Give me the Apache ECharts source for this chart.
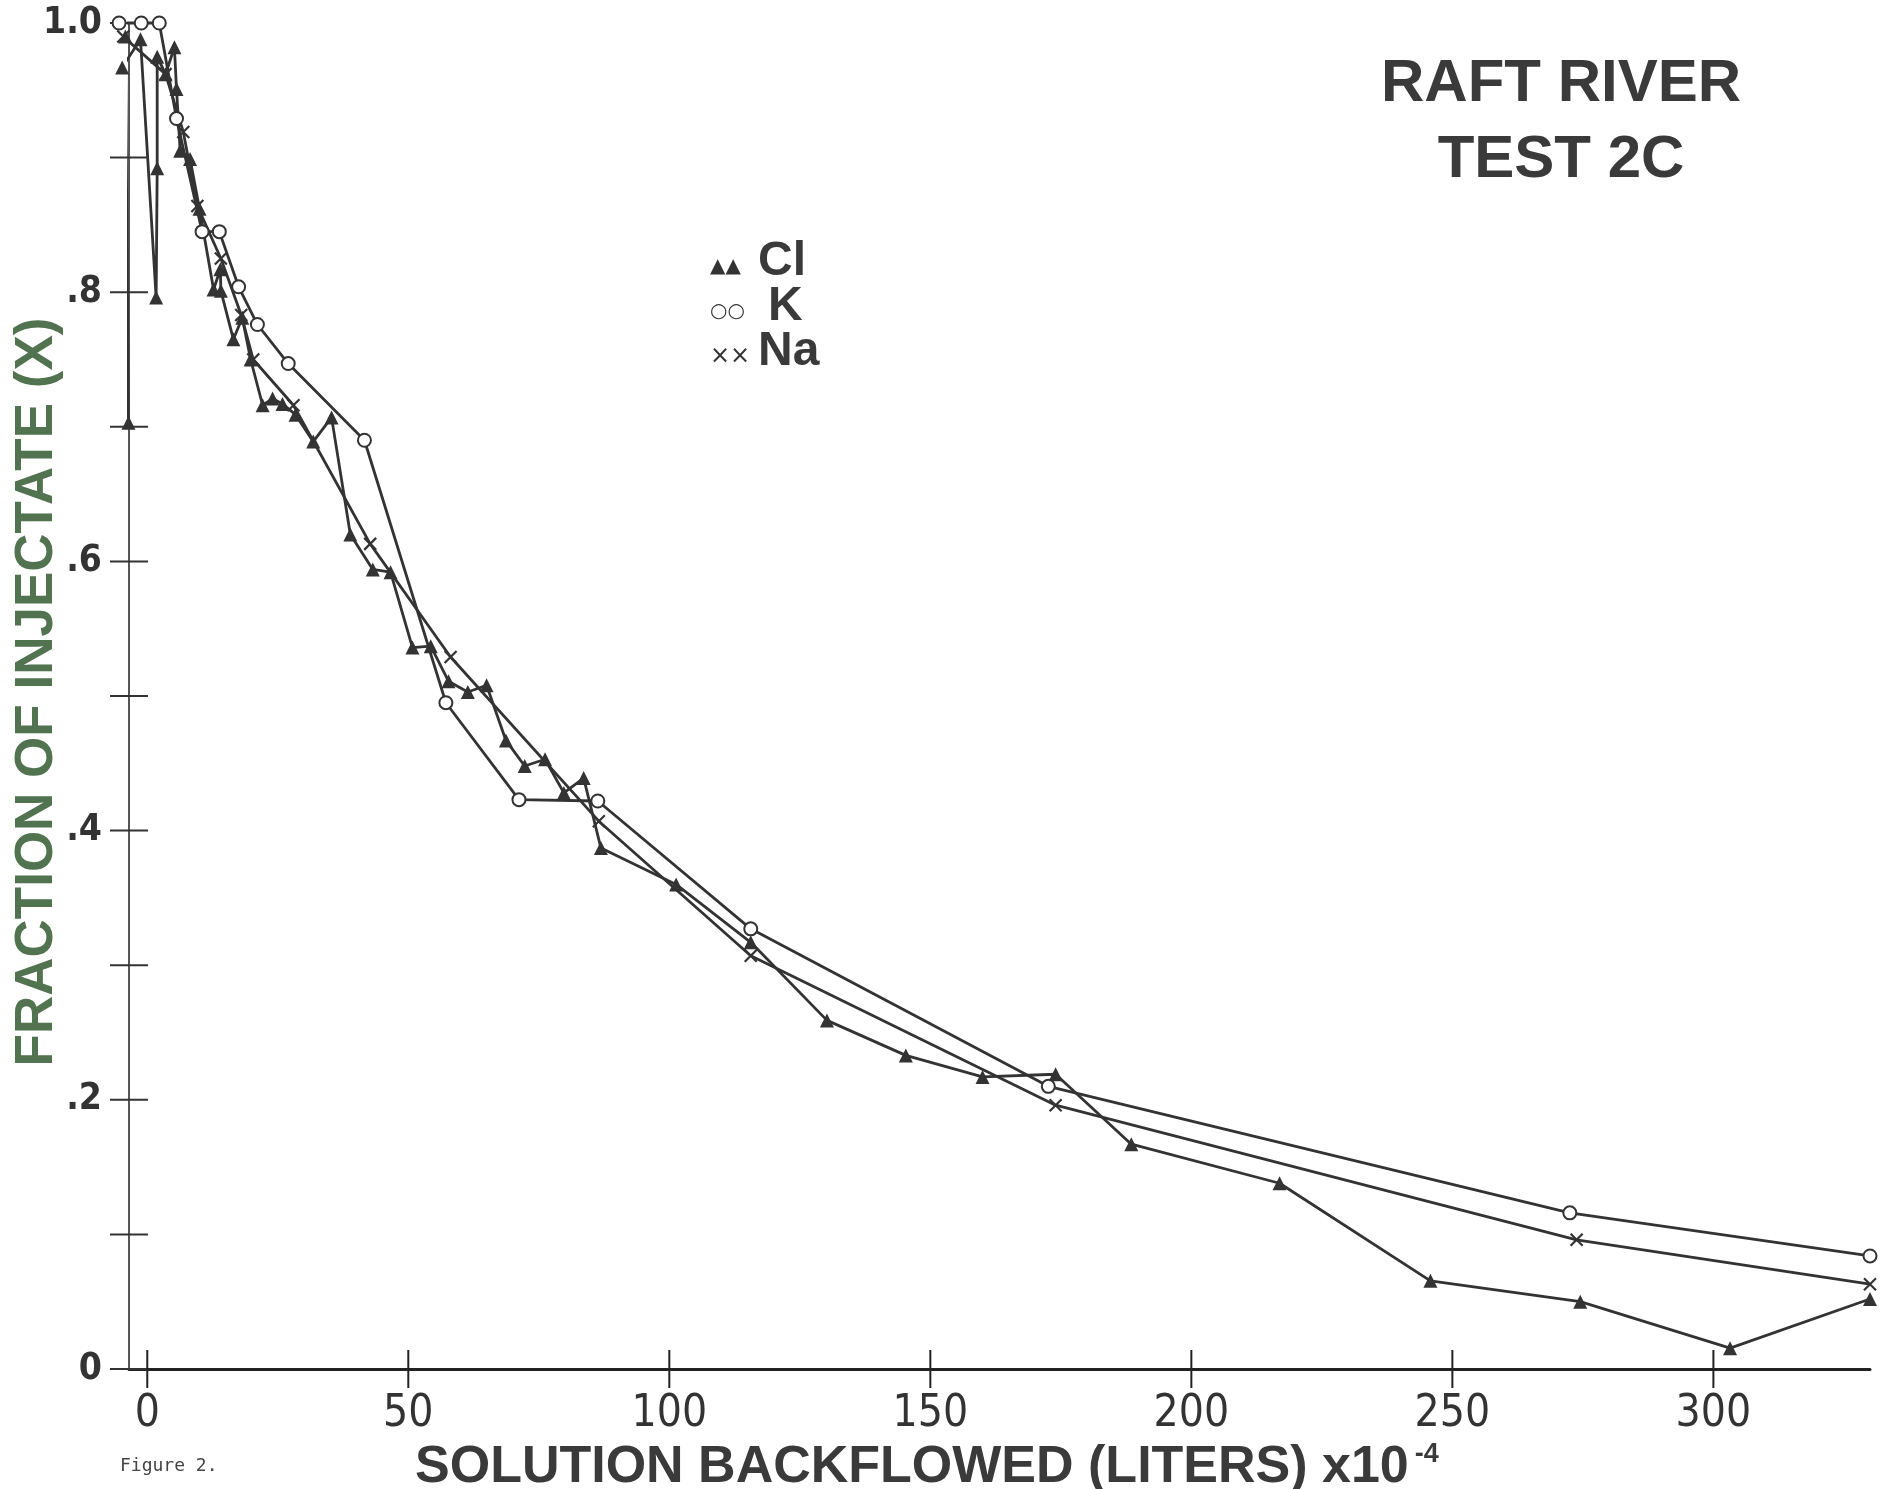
<!DOCTYPE html>
<html><head><meta charset="utf-8">
<script src="https://cdn.jsdelivr.net/npm/echarts@6/dist/echarts.min.js"></script>
<style>html,body{margin:0;padding:0;background:#fff}#c{width:1887px;height:1489px}</style>
</head><body><div id="c"></div>
<script>
// Cl (triangles): [backflowed volume x1e-4 L, fraction of injectate]
const clData = [
  [-3.6,0.703],[-4.2,0.99],[-4.8,0.967],[-1.3,0.988],[1.7,0.796],[1.9,0.892],[1.9,0.975],
  [3.5,0.962],[5.2,0.982],[5.6,0.951],[6.3,0.905],[8.2,0.899],[10.0,0.862],[12.7,0.802],
  [14.0,0.817],[14.1,0.801],[16.5,0.765],[18.2,0.781],[19.8,0.75],[22.1,0.716],[24.0,0.721],
  [25.9,0.717],[28.4,0.709],[31.8,0.689],[35.3,0.707],[38.9,0.62],[43.2,0.594],[46.6,0.592],
  [50.8,0.536],[54.3,0.537],[57.7,0.511],[61.4,0.503],[65.0,0.508],[68.7,0.467],[72.3,0.448],
  [76.2,0.453],[79.8,0.428],[83.6,0.439],[86.9,0.387],[101.3,0.36],[115.6,0.317],[130.2,0.259],
  [145.3,0.233],[160.0,0.217],[174.0,0.219],[188.5,0.167],[216.9,0.138],[245.8,0.0655],
  [274.5,0.050],[303.2,0.0155],[330,0.052]
];
// K (open circles)
const kData = [
  [-5.4,1.0],[-1.15,1.0],[2.3,1.0],[5.6,0.929],[10.5,0.845],[13.8,0.845],[17.5,0.804],
  [21.1,0.776],[27.0,0.747],[41.6,0.690],[57.2,0.495],[71.2,0.423],[86.3,0.422],[115.6,0.327],
  [172.6,0.210],[272.5,0.116],[330,0.084]
];
// Na (crosses)
const naData = [
  [-4.6,0.99],[3.5,0.962],[6.9,0.919],[9.6,0.864],[14.1,0.825],[18.0,0.783],[20.3,0.75],
  [28.0,0.716],[42.7,0.613],[58.1,0.529],[86.5,0.407],[115.6,0.307],[174.0,0.196],
  [273.8,0.096],[330,0.063]
];
const xTickValues = [0,50,100,150,200,250,300];
const yTickValues = [0,0.1,0.2,0.3,0.4,0.5,0.6,0.7,0.8,0.9,1.0];
const yLabelValues = [0,0.2,0.4,0.6,0.8,1.0];
const yTickLabels = ['0','.2','.4','.6','.8','1.0'];
const legendNames = ['Cl','K','Na'];
const legendGlyphs = ['\u25B2\u25B2','\u25CB\u25CB','\u00D7\u00D7'];
const titleLines = ['RAFT RIVER','TEST 2C'];
const yTitle = 'FRACTION OF INJECTATE (X)';
const xTitle = 'SOLUTION BACKFLOWED (LITERS) x10{s|-4}';
const figLabel = 'Figure 2.';

const X_MIN = -3.5, X_MAX = 330;
const INK = '#333';
const SANS = "'Liberation Sans', Arial, Helvetica, sans-serif";
const NARROW = "'Liberation Sans Narrow', 'DejaVu Sans Condensed', 'Liberation Sans', sans-serif";
const TICK_HALF = 19;

const chart = echarts.init(document.getElementById('c'), null, {renderer:'canvas'});

const baseSeries = {
  type:'line', clip:false, showAllSymbol:true, animation:false,
  lineStyle:{color:INK, width:2.8}, emphasis:{disabled:true}, z:3
};

const graphic = [];
titleLines.forEach((t,i)=>{
  graphic.push({type:'text', x:1561, y:84 + i*76,
    style:{text:t, font:"bold 60px "+SANS, fill:'#3a3a3a', align:'center', verticalAlign:'middle'}});
});
const legendTextX = [758, 768, 758];
legendNames.forEach((n,i)=>{
  const y = 262 + i*45;
  graphic.push({type:'text', x:710, y:y+5,
    style:{text:legendGlyphs[i], font:(i===2?'24px ':'20px ')+"'DejaVu Sans', sans-serif", fill:INK, align:'left', verticalAlign:'middle'}});
  graphic.push({type:'text', x:legendTextX[i], y:y,
    style:{text:n, font:"bold 48px "+SANS, fill:'#3a3a3a', align:'left', verticalAlign:'middle'}});
});
graphic.push({type:'text', x:37, y:692, rotation:Math.PI/2,
  style:{text:yTitle, font:"bold 53px "+SANS, fill:'#517350', align:'center', verticalAlign:'middle'}});
graphic.push({type:'text', x:415, y:1468,
  style:{text:xTitle, font:"bold 52px "+SANS, fill:'#3a3a3a',
    align:'left', verticalAlign:'middle',
    rich:{s:{font:"bold 27px "+SANS, fill:'#3a3a3a', padding:[0,0,27,6]}}}});
graphic.push({type:'text', x:120, y:1466,
  style:{text:figLabel, font:"18px 'DejaVu Sans Mono', monospace", fill:'#444', align:'left', verticalAlign:'middle'}});

chart.setOption({
  animation:false,
  backgroundColor:'#fff',
  grid:{left:129, right:17, top:23, bottom:120, containLabel:false, outerBoundsMode:'none'},
  xAxis:{
    type:'value', min:X_MIN, max:X_MAX, position:'bottom',
    axisLine:{show:true, onZero:false, lineStyle:{color:'#222', width:3}},
    axisTick:{show:false},
    axisLabel:{show:true, customValues:xTickValues, margin:24, fontSize:44, fontFamily:NARROW, color:INK},
    splitLine:{show:false}
  },
  yAxis:{
    type:'value', min:0, max:1, interval:0.1, position:'left',
    axisLine:{show:true, onZero:false, lineStyle:{color:'#555', width:2}},
    axisTick:{show:false},
    axisLabel:{show:true, customValues:yLabelValues, margin:27, fontSize:37, fontWeight:'bold', fontFamily:NARROW, color:INK,
      formatter:(v)=>{const i=yLabelValues.findIndex(u=>Math.abs(u-v)<1e-6); return i>=0?yTickLabels[i]:'';}},
    splitLine:{show:false}
  },
  series:[
    // crossing tick marks on the y axis, placed through the axis scale
    {type:'custom', clip:false, silent:true, z:2, data:yTickValues.map(v=>[v]),
      encode:{x:-1, y:-1},
      renderItem:(params, api)=>{
        const p = api.coord([X_MIN, api.value(0)]);
        return {type:'line', shape:{x1:p[0]-TICK_HALF, y1:p[1], x2:p[0]+TICK_HALF, y2:p[1]},
          style:{stroke:INK, lineWidth:2}};
      }},
    // crossing tick marks on the x axis
    {type:'custom', clip:false, silent:true, z:2, data:xTickValues.map(v=>[v]),
      encode:{x:-1, y:-1},
      renderItem:(params, api)=>{
        const p = api.coord([api.value(0), 0]);
        return {type:'line', shape:{x1:p[0], y1:p[1]-TICK_HALF, x2:p[0], y2:p[1]+TICK_HALF},
          style:{stroke:'#222', lineWidth:2}};
      }},
    Object.assign({}, baseSeries, {name:'Cl', data:clData, symbol:'triangle', symbolSize:14,
      itemStyle:{color:INK}}),
    Object.assign({}, baseSeries, {name:'K', data:kData, symbol:'emptyCircle', symbolSize:13,
      itemStyle:{color:INK, borderColor:INK, borderWidth:2}}),
    Object.assign({}, baseSeries, {name:'Na', data:naData, symbol:'path://M0 0 L12 12 M12 0 L0 12', symbolSize:12,
      itemStyle:{color:INK, borderColor:INK, borderWidth:2.2}})
  ],
  graphic:graphic
});
</script>
</body></html>
